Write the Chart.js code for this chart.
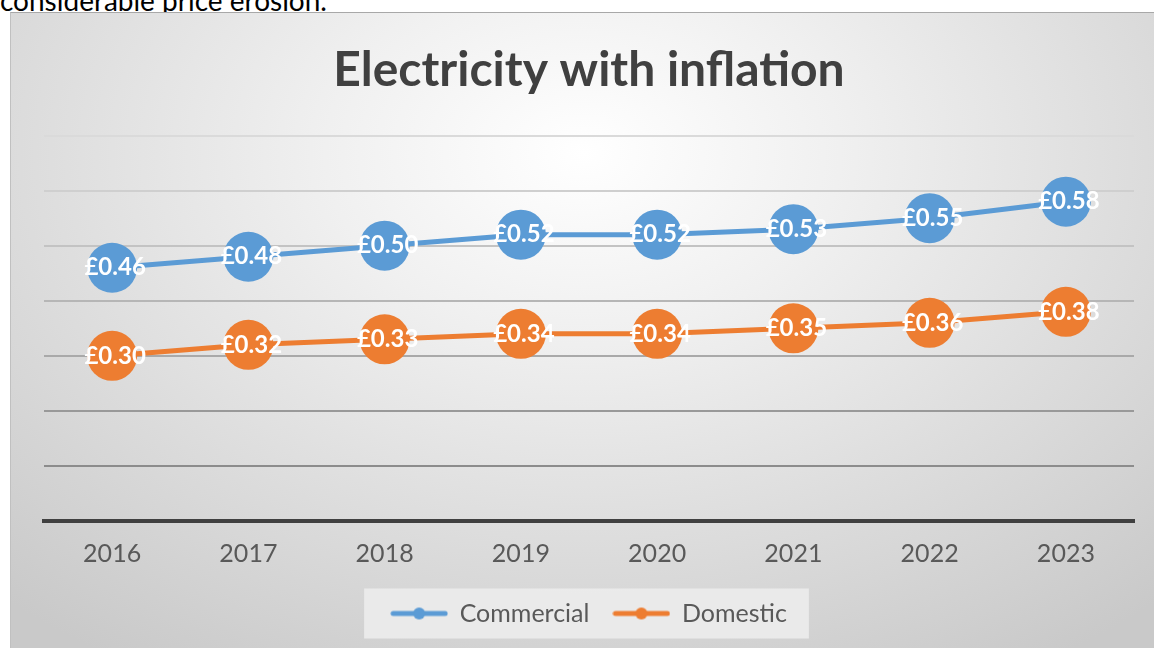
<!DOCTYPE html>
<html>
<head>
<meta charset="utf-8">
<script src="https://cdn.jsdelivr.net/npm/chart.js@4.4.0/dist/chart.umd.min.js"></script>
<style>
  body { margin: 0; background: #fff; width: 1154px; height: 648px; overflow: hidden; position: relative; }
  #cut { position: absolute; left: 0; top: -17px; font: 28px Lato, sans-serif; color: #000; white-space: nowrap; }
  #frame {
    position: absolute; left: 10px; top: 12px; width: 1144px; height: 636px;
    border-top: 1px solid #a8a8a8; border-left: 1px solid #c0c0c0;
    background: radial-gradient(ellipse 75% 95% at 50% 22%, #ffffff 0%, #f0f0f0 30%, #dedede 62%, #c9c9c9 100%);
  }
  canvas { display: block; }
</style>
</head>
<body>
<div id="cut">considerable price erosion.</div>
<div id="frame"><canvas id="chart" width="1144" height="636"></canvas></div>
<script>
const years = ['2016', '2017', '2018', '2019', '2020', '2021', '2022', '2023'];
const commercial = [0.46, 0.48, 0.50, 0.52, 0.52, 0.53, 0.55, 0.58];
const domestic = [0.30, 0.32, 0.33, 0.34, 0.34, 0.35, 0.36, 0.38];

const blue = '#5b9bd5';
const orange = '#ed7d31';

function legendLine(color) {
    const c = document.createElement('canvas');
    c.width = 58;
    c.height = 14;
    const g = c.getContext('2d');
    g.strokeStyle = color;
    g.lineWidth = 5;
    g.lineCap = 'round';
    g.beginPath();
    g.moveTo(3, 7);
    g.lineTo(55, 7);
    g.stroke();
    g.fillStyle = color;
    g.beginPath();
    g.arc(29, 7, 6, 0, Math.PI * 2);
    g.fill();
    return c;
}

const gridShades = ['#8a8a8a', '#8c8c8c', '#999999', '#a9a9a9', '#b6b6b6', '#c3c3c3', '#cfcfcf', '#dadada'];

// white value labels on the markers
const valueLabels = {
    id: 'valueLabels',
    afterDatasetsDraw(chart) {
        const ctx = chart.ctx;
        ctx.save();
        ctx.font = 'bold 24px Lato, sans-serif';
        ctx.fillStyle = '#ffffff';
        ctx.textAlign = 'center';
        ctx.textBaseline = 'middle';
        chart.data.datasets.forEach((ds, i) => {
            chart.getDatasetMeta(i).data.forEach((pt, j) => {
                ctx.fillText('£' + ds.data[j].toFixed(2), pt.x + 3, pt.y);
            });
        });
        ctx.restore();
    }
};

// light panel behind the legend
const legendPanel = {
    id: 'legendPanel',
    beforeDraw(chart) {
        const boxes = chart.legend && chart.legend.legendHitBoxes;
        if (!boxes || !boxes.length) return;
        const left = Math.min(...boxes.map(b => b.left));
        const right = Math.max(...boxes.map(b => b.left + b.width));
        const mid = boxes[0].top + boxes[0].height / 2;
        const ctx = chart.ctx;
        ctx.save();
        ctx.fillStyle = 'rgba(236,236,236,0.9)';
        ctx.fillRect(left - 27, mid - 25, right - left + 49, 50);
        ctx.restore();
    }
};

new Chart(document.getElementById('chart'), {
    type: 'line',
    data: {
        labels: years,
        datasets: [
            {
                label: 'Commercial',
                data: commercial,
                borderColor: blue,
                backgroundColor: blue,
                borderWidth: 5,
                pointRadius: 25,
                pointHoverRadius: 25,
                pointBorderWidth: 0,
                pointBackgroundColor: blue
            },
            {
                label: 'Domestic',
                data: domestic,
                borderColor: orange,
                backgroundColor: orange,
                borderWidth: 5,
                pointRadius: 25,
                pointHoverRadius: 25,
                pointBorderWidth: 0,
                pointBackgroundColor: orange
            }
        ]
    },
    options: {
        responsive: false,
        animation: false,
        layout: { autoPadding: false, padding: { left: 33, right: 21, top: 0, bottom: 13 } },
        scales: {
            x: {
                offset: true,
                grid: { display: false, drawTicks: false },
                border: { display: true, color: '#404040', width: 4 },
                ticks: { color: '#595959', font: { family: 'Lato, sans-serif', size: 25 }, padding: 18 },
                afterFit: s => { s.height = 56; }
            },
            y: {
                min: 0,
                max: 0.7,
                ticks: { stepSize: 0.1, display: false },
                border: { display: false },
                grid: {
                    drawTicks: false,
                    lineWidth: 2,
                    color: c => gridShades[c.index] || '#cccccc'
                }
            }
        },
        plugins: {
            title: {
                display: true,
                text: 'Electricity with inflation',
                color: '#404040',
                font: { family: 'Lato, sans-serif', size: 48, weight: 'bold' },
                padding: { top: 29, bottom: 36 }
            },
            legend: {
                position: 'bottom',
                labels: {
                    usePointStyle: true,
                    pointStyleWidth: 56,
                    color: '#595959',
                    font: { family: 'Lato, sans-serif', size: 25 },
                    padding: 24,
                    generateLabels: chart => chart.data.datasets.map((ds, i) => ({
                        text: ds.label,
                        fontColor: '#595959',
                        pointStyle: legendLine(ds.borderColor),
                        lineWidth: 0,
                        strokeStyle: 'transparent',
                        fillStyle: ds.borderColor,
                        datasetIndex: i,
                        hidden: false
                    }))
                }
            },
            tooltip: { enabled: false }
        }
    },
    plugins: [legendPanel, valueLabels]
});
</script>
</body>
</html>
